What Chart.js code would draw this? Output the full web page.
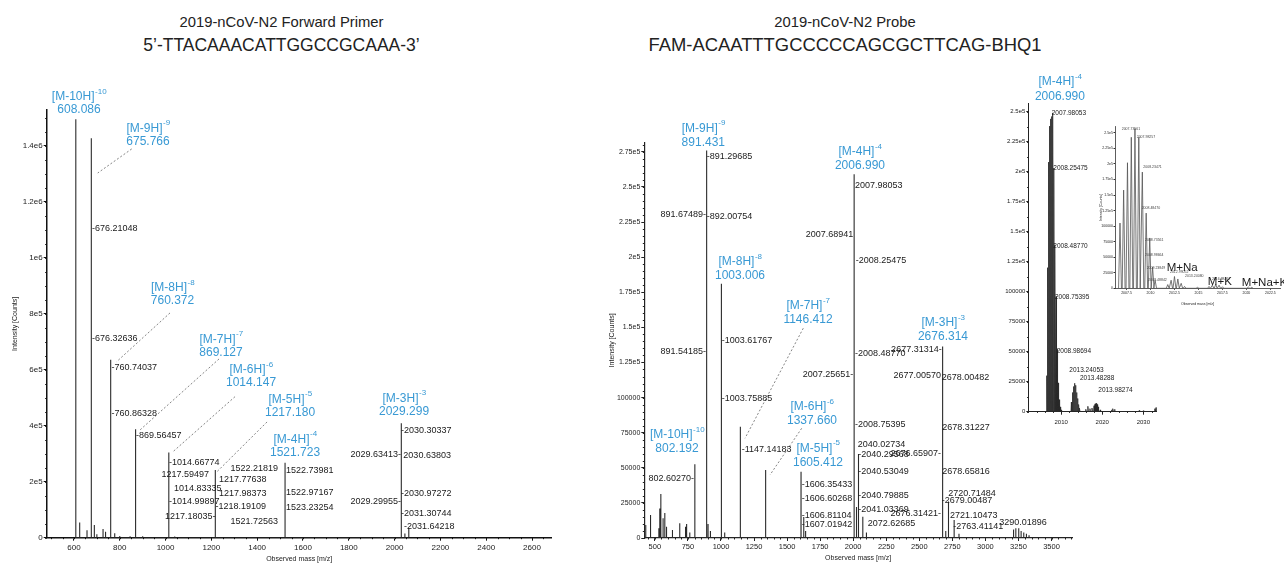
<!DOCTYPE html>
<html><head><meta charset="utf-8">
<script src="https://cdn.jsdelivr.net/npm/chart.js@4.4.1/dist/chart.umd.min.js"></script>
<style>
html,body{margin:0;padding:0;background:#fff;}
body{width:1284px;height:565px;position:relative;overflow:hidden;font-family:"Liberation Sans",Arial,sans-serif;}
.t{position:absolute;text-align:center;color:#222;white-space:nowrap;width:500px;line-height:20px;}
canvas{position:absolute;}
</style></head><body>
<div class="t" style="left:31.5px;top:12px;font-size:14.8px">2019-nCoV-N2 Forward Primer</div>
<div class="t" style="left:31.5px;top:35px;font-size:17.5px">5’-TTACAAACATTGGCCGCAAA-3’</div>
<div class="t" style="left:595px;top:12px;font-size:14.8px">2019-nCoV-N2 Probe</div>
<div class="t" style="left:595px;top:35px;font-size:18.4px">FAM-ACAATTTGCCCCCAGCGCTTCAG-BHQ1</div>
<canvas id="cL" width="560" height="565" style="left:0;top:0"></canvas>
<canvas id="cR" width="724" height="565" style="left:560px;top:0"></canvas>
<canvas id="cI" width="180" height="360" style="left:990px;top:70px"></canvas>
<canvas id="cM" width="189" height="195" style="left:1095px;top:115px"></canvas>
<script>
// ---------------- DATA ----------------
// Left spectrum: Forward primer (m/z, intensity counts)
const leftMz  = [608.086, 625, 657, 675.766, 689, 700, 727, 738, 760.372, 778, 800, 845, 869.127, 900, 1014.147, 1040, 1217.180, 1521.723, 2029.299, 2045, 2062];
const leftInt = [1494000, 54000, 27000, 1426000, 45000, 12000, 31000, 21000, 635000, 16000, 6000, 5000, 387000, 5000, 304000, 4000, 242000, 268000, 409000, 15000, 35000];
const leftXTicks = [600, 800, 1000, 1200, 1400, 1600, 1800, 2000, 2200, 2400, 2600];
const leftYTicks = [0, 200000, 400000, 600000, 800000, 1000000, 1200000, 1400000];
const leftYLabels = ['0', '2e5', '4e5', '6e5', '8e5', '1e6', '1.2e6', '1.4e6'];

// Right spectrum: Probe
const rightMz  = [431, 467, 530, 537, 545, 562, 575, 588, 633, 688, 732, 740, 764, 802.192, 891.431, 902, 920, 1003.006, 1028, 1146.412, 1337.660, 1605.412, 1626, 1640, 2006.990, 2025, 2040.03, 2072.6, 2100, 2676.314, 2700, 2720.7, 2763.4, 2800, 3213, 3230, 3252, 3270, 3290, 3310, 3330];
const rightInt = [9300, 16400, 6900, 21000, 31300, 14000, 17800, 8000, 5700, 10500, 8000, 10000, 4000, 52500, 276000, 10000, 5000, 181000, 4000, 79300, 48400, 47200, 15000, 5000, 259000, 22000, 59800, 15200, 4000, 136300, 5000, 26000, 12800, 3000, 6000, 7000, 7000, 5000, 4000, 3000, 2000];
const rightXTicks = [500, 750, 1000, 1250, 1500, 1750, 2000, 2250, 2500, 2750, 3000, 3250, 3500];
const rightYTicks = [0, 25000, 50000, 75000, 100000, 125000, 150000, 175000, 200000, 225000, 250000, 275000];
const rightYLabels = ['0', '25000', '50000', '75000', '100000', '1.25e5', '1.5e5', '1.75e5', '2e5', '2.25e5', '2.5e5', '2.75e5'];

// Inset: zoom of the [M-4H]-4 region
const insetMz  = [2006.49, 2006.74, 2006.99, 2007.24, 2007.49, 2007.74, 2007.98, 2008.25, 2008.49, 2008.75, 2008.99, 2009.24, 2009.49, 2009.74, 2010.0, 2012.49, 2012.74, 2012.99, 2013.24, 2013.49, 2013.74, 2013.98, 2014.24, 2014.49, 2016.0, 2016.5, 2017.0, 2017.5, 2018.0, 2018.25, 2018.5, 2018.75, 2019.0, 2019.5, 2022.3, 2022.6, 2023.0, 2029.0, 2030.0, 2032.8, 2033.1];
const insetInt = [30000, 120000, 208000, 238000, 244000, 246000, 249000, 203000, 139000, 96000, 52000, 24000, 10000, 4000, 1500, 8000, 16000, 21000, 23700, 22000, 16000, 11000, 6000, 3000, 2000, 4500, 2500, 3000, 5000, 6500, 7000, 6000, 4000, 1500, 1500, 2500, 2000, 1000, 800, 2500, 3500];
const insetXTicks = [2010, 2020, 2030];
const insetYTicks = [0, 25000, 50000, 75000, 100000, 125000, 150000, 175000, 200000, 225000, 250000];
const insetYLabels = ['0', '25000', '50000', '75000', '100000', '1.25e5', '1.5e5', '1.75e5', '2e5', '2.25e5', '2.5e5'];

// Mini inset (adducts)
const miniMz  = [2006.82, 2007.2, 2007.6, 2008.0, 2008.38, 2008.78, 2009.15, 2009.55, 2009.92, 2010.22, 2010.48, 2011.8, 2012.15, 2012.5, 2012.85, 2013.2, 2013.55, 2014.9, 2016.1, 2016.45, 2016.8, 2017.15, 2017.5, 2020.2, 2020.55];
const miniInt = [105000, 158000, 202000, 243000, 257000, 243000, 187000, 121000, 81000, 34000, 13000, 6000, 13000, 19000, 15000, 8000, 3000, 1500, 3000, 5000, 6500, 5000, 2500, 2000, 1500];
const miniXTicks = [2007.5, 2010, 2012.5, 2015, 2017.5, 2020, 2022.5];
const miniYTicks = [0, 25000, 50000, 75000, 100000, 125000, 150000, 175000, 200000, 225000, 250000];
const miniYLabels = insetYLabels;

// ---------------- ANNOTATIONS (anchored in data units) ----------------
const leftBlue = [
  ['[M-10H]', '-10', '608.086', 622, 1573000],
  ['[M-9H]', '-9', '675.766', 923.4, 1462000],
  ['[M-8H]', '-8', '760.372', 1030.4, 892900],
  ['[M-7H]', '-7', '869.127', 1242.2, 708600],
  ['[M-6H]', '-6', '1014.147', 1373.2, 598900],
  ['[M-5H]', '-5', '1217.180', 1543.5, 494300],
  ['[M-4H]', '-4', '1521.723', 1565.3, 351400],
  ['[M-3H]', '-3', '2029.299', 2041.3, 497900]
];
const leftDash = [
  [852.2, 1388000, 703.7, 1302000],
  [1019.4, 802500, 786.7, 628600],
  [1233.4, 638200, 888.4, 384600],
  [1303.3, 503600, 1032.5, 307100],
  [1443, 413200, 1224.7, 235700]
];
const leftBlack = [
  ['-676.21048', 678.8, 1105000, 'left'],
  ['-676.32636', 678.8, 712100, 'left'],
  ['-760.74037', 764, 608600, 'left'],
  ['-760.86328', 764, 444300, 'left'],
  ['-869.56457', 871, 364300, 'left'],
  ['-1014.66774', 1015, 267900, 'left'],
  ['1217.59497', 1189.8, 225000, 'right'],
  ['1217.77638', 1233.4, 208600, 'left'],
  ['1014.83335', 1037, 176400, 'left'],
  ['1217.98373', 1233.4, 158600, 'left'],
  ['-1014.99897', 1015, 128600, 'left'],
  ['-1218.19109', 1218.2, 110700, 'left'],
  ['1217.18035-', 1218.2, 73900, 'right'],
  ['1522.21819', 1491, 247900, 'right'],
  ['1522.73981', 1526, 238200, 'left'],
  ['1522.97167', 1526, 160700, 'left'],
  ['1523.23254', 1526, 107100, 'left'],
  ['1521.72563', 1491, 57100, 'right'],
  ['-2030.30337', 2028.2, 381100, 'left'],
  ['2029.63413-', 2028.2, 295400, 'right'],
  ['2030.63803', 2038.3, 292900, 'left'],
  ['-2030.97272', 2028.2, 158600, 'left'],
  ['2029.29955-', 2028.2, 128600, 'right'],
  ['-2031.30744', 2028.2, 87100, 'left'],
  ['-2031.64218', 2041.3, 39300, 'left']
];
const rightBlue = [
  ['[M-9H]', '-9', '891.431', 866.2, 291800],
  ['[M-8H]', '-8', '1003.006', 1143.8, 196800],
  ['[M-4H]', '-4', '2006.990', 2051.3, 275200],
  ['[M-7H]', '-7', '1146.412', 1658, 165300],
  ['[M-10H]', '-10', '802.192', 667.3, 73400],
  ['[M-6H]', '-6', '1337.660', 1688.3, 93500],
  ['[M-5H]', '-5', '1605.412', 1733.7, 63900],
  ['[M-3H]', '-3', '2676.314', 2679, 153400]
];
const rightDash = [
  [1622.5, 149400, 1181.6, 71000],
  [1610.4, 78100, 1370.7, 44900]
];
const rightBlack = [
  ['-891.29685', 891.9, 271600, 'left'],
  ['891.67489-', 886.6, 230100, 'right'],
  ['-892.00754', 891.9, 228900, 'left'],
  ['891.54185-', 886.6, 132700, 'right'],
  ['-1003.61767', 1005.4, 140500, 'left'],
  ['-1003.75885', 1005.4, 99500, 'left'],
  ['802.60270-', 795.9, 42500, 'right'],
  ['-1147.14183', 1156.6, 62700, 'left'],
  ['-1606.35433', 1610.4, 38250, 'left'],
  ['-1606.60268', 1610.4, 28280, 'left'],
  ['-1606.81104', 1610.4, 15880, 'left'],
  ['-1607.01942', 1610.4, 9260, 'left'],
  ['2007.98053', 2013.5, 250700, 'left'],
  ['2007.68941', 2000.7, 215800, 'right'],
  ['-2008.25475', 2018.8, 197800, 'left'],
  ['-2008.48770', 2013.5, 131100, 'left'],
  ['2007.25651-', 2000.7, 116100, 'right'],
  ['-2008.75395', 2013.5, 80500, 'left'],
  ['2040.02734', 2034, 66700, 'left'],
  ['-2040.29568', 2038.5, 59100, 'left'],
  ['-2040.53049', 2038.5, 47200, 'left'],
  ['-2040.79885', 2038.5, 29900, 'left'],
  ['-2041.03369', 2038.5, 20400, 'left'],
  ['2072.62685', 2109.6, 9970, 'left'],
  ['2677.31314-', 2669.2, 133900, 'right'],
  ['2677.00570', 2663.9, 115400, 'right'],
  ['2678.00482', 2669.2, 114500, 'left'],
  ['2678.31227', 2673.8, 78600, 'left'],
  ['2676.65907-', 2663.9, 60300, 'right'],
  ['2678.65816', 2673.8, 47200, 'left'],
  ['2720.71484', 2719.2, 31800, 'left'],
  ['-2679.00487', 2669.2, 26400, 'left'],
  ['2676.31421-', 2663.9, 17600, 'right'],
  ['2721.10473', 2732, 15700, 'left'],
  ['-2763.41141', 2757, 8050, 'left'],
  ['3290.01896', 3104.9, 11180, 'left']
];
const insetBlue = [['[M-4H]', '-4', '2006.990', 2009.7, 275000]];
const insetBlack = [
  ['2007.98053', 2007.69, 248700, 'left'],
  ['2008.25475', 2008.08, 202800, 'left'],
  ['2008.48770', 2008.08, 137500, 'left'],
  ['2008.75395', 2008.5, 95800, 'left'],
  ['2008.98694', 2008.91, 50000, 'left'],
  ['2013.24053', 2011.98, 34700, 'left'],
  ['2013.48288', 2014.58, 27800, 'left'],
  ['2013.98274', 2019.03, 18100, 'left']
];
const miniBig = [['M+Na', 2011.69, 32200], ['M+K', 2015.98, 10600], ['M+Na+K', 2019.52, 9000]];
const miniBlack = [
  ['2007.73561', 2007.0, 255800, 'left'],
  ['2007.98257', 2008.56, 244000, 'left'],
  ['2008.23471', 2009.25, 195700, 'left'],
  ['2008.48470', 2009.08, 128700, 'left'],
  ['2008.73561', 2009.43, 77700, 'left'],
  ['2008.98664', 2009.43, 53600, 'left'],
  ['2009.23849', 2009.6, 32200, 'left'],
  ['2009.48842', 2009.77, 13400, 'left'],
  ['2012.99052', 2012.03, 26700, 'left'],
  ['2013.24080', 2013.6, 19800, 'left'],
  ['2016.98467', 2016.4, 15000, 'left']
];

// ---------------- RENDERING ----------------
const SANS = '"Liberation Sans", Arial, sans-serif';
const NARROW = '"Liberation Sans Narrow", "Liberation Sans", Arial, sans-serif';
const BLUE = '#3899d4';

function buildPoints(mz, int, hw) {
  const idx = mz.map((_, i) => i).sort((a, b) => mz[a] - mz[b]);
  const pts = [];
  idx.forEach(i => { pts.push({x: mz[i] - hw, y: 0}, {x: mz[i], y: int[i]}, {x: mz[i] + hw, y: 0}); });
  return pts;
}

function annotPlugin(spec) {
  return {
    id: 'annot',
    afterDraw(chart) {
      const ctx = chart.ctx, ca = chart.chartArea;
      const xs = chart.scales.x, ys = chart.scales.y;
      const X = v => xs.getPixelForValue(v), Y = v => ys.getPixelForValue(v);
      ctx.save();
      if (spec.minor) {
        const [mx, my, len] = spec.minor;
        ctx.strokeStyle = spec.axisColor; ctx.lineWidth = 1;
        ctx.beginPath();
        if (mx) { const n0 = Math.ceil(xs.min / mx), n1 = Math.floor(xs.max / mx);
          for (let n = n0; n <= n1; n++) { const p = Math.round(X(n * mx)) + 0.5; ctx.moveTo(p, ca.bottom); ctx.lineTo(p, ca.bottom + len); } }
        if (my) { const n0 = Math.ceil(ys.min / my), n1 = Math.floor(ys.max / my);
          for (let n = n0; n <= n1; n++) { const p = Math.round(Y(n * my)) + 0.5; ctx.moveTo(ca.left, p); ctx.lineTo(ca.left - len, p); } }
        ctx.stroke();
      }
      if (spec.dash) {
        ctx.strokeStyle = '#666'; ctx.lineWidth = 0.8; ctx.setLineDash([2, 2]);
        spec.dash.forEach(d => { ctx.beginPath(); ctx.moveTo(X(d[0]), Y(d[1])); ctx.lineTo(X(d[2]), Y(d[3])); ctx.stroke(); });
        ctx.setLineDash([]);
      }
      if (spec.black) {
        ctx.font = spec.blackFont; ctx.fillStyle = spec.blackColor || '#1a1a1a'; ctx.textBaseline = 'middle';
        spec.black.forEach(b => { ctx.textAlign = b[3]; ctx.fillText(b[0], X(b[1]), Y(b[2])); });
      }
      if (spec.blue) {
        ctx.fillStyle = BLUE; ctx.textBaseline = 'middle';
        const big = '12px ' + SANS, small = '8px ' + SANS;
        const gap = spec.blueGap || 13.5;
        spec.blue.forEach(b => {
          const cx = X(b[3]), cy = Y(b[4]);
          ctx.font = big; const wm = ctx.measureText(b[0]).width;
          ctx.font = small; const ws = ctx.measureText(b[1]).width;
          const x0 = cx - (wm + ws) / 2;
          ctx.textAlign = 'left';
          ctx.font = big; ctx.fillText(b[0], x0, cy);
          ctx.font = small; ctx.fillText(b[1], x0 + wm + 0.5, cy - 5);
          ctx.font = big; ctx.textAlign = 'center'; ctx.fillText(b[2], cx, cy + gap);
        });
      }
      if (spec.big) {
        ctx.fillStyle = '#1a1a1a'; ctx.textBaseline = 'middle'; ctx.textAlign = 'left'; ctx.font = '11.5px ' + SANS;
        spec.big.forEach(b => ctx.fillText(b[0], X(b[1]), Y(b[2])));
      }
      ctx.restore();
    }
  };
}

function axisCfg(o) {
  const bottom = o.pos === 'bottom';
  return {
    type: 'linear', position: o.pos, min: o.min, max: o.max,
    afterBuildTicks: s => { s.ticks = o.ticks.map(v => ({value: v})); },
    afterFit: s => {
      if (bottom) { s.height = o.size; s.paddingLeft = 0; s.paddingRight = 0; }
      else { s.width = o.size; s.paddingTop = 0; s.paddingBottom = 0; }
    },
    ticks: {
      autoSkip: false, maxRotation: 0, minRotation: 0, padding: o.tpad, color: '#222',
      font: {family: NARROW, size: o.tfs},
      callback: v => { const i = o.ticks.indexOf(v); return i >= 0 ? o.labels[i] : ''; }
    },
    grid: {drawOnChartArea: false, drawTicks: true, tickLength: o.tl, color: o.axisColor, lineWidth: 1},
    border: {display: true, color: o.axisColor, width: o.bw},
    title: o.title ? {display: true, text: o.title, color: '#222', font: {family: SANS, size: o.titleSize},
      padding: bottom ? {top: 0, bottom: o.titlePad} : {top: o.titlePad, bottom: 0}} : {display: false}
  };
}

function makeChart(id, c) {
  return new Chart(document.getElementById(id), {
    type: 'line',
    data: {datasets: [{
      data: buildPoints(c.mz, c.int, c.hw),
      borderColor: c.color, borderWidth: c.lw, pointRadius: 0, tension: 0,
      fill: c.fill ? 'origin' : false, backgroundColor: c.fill || 'transparent'
    }]},
    options: {
      responsive: false, animation: false, devicePixelRatio: 1,
      layout: {padding: c.pad},
      plugins: {legend: {display: false}, tooltip: {enabled: false}},
      scales: {x: axisCfg(c.x), y: axisCfg(c.y)}
    },
    plugins: [annotPlugin(c.annot)]
  });
}

// Left chart
makeChart('cL', {
  mz: leftMz, int: leftInt, hw: 0.05, color: '#2a2a2a', lw: 1.1,
  pad: {left: 0, right: 8.3, top: 110, bottom: 0},
  x: {pos: 'bottom', min: 481, max: 2686, ticks: leftXTicks, labels: leftXTicks.map(String), size: 27.3, tl: 3, tpad: 2, tfs: 8, axisColor: '#111', bw: 1.5, title: 'Observed mass [m/z]', titleSize: 7, titlePad: 1.5},
  y: {pos: 'left', min: 0, max: 1527000, ticks: leftYTicks, labels: leftYLabels, size: 46.7, tl: 3, tpad: 1, tfs: 8, axisColor: '#111', bw: 1.5, title: 'Intensity [Counts]', titleSize: 7, titlePad: 10.5},
  annot: {minor: [50, 50000, 1.5], axisColor: '#111', dash: leftDash, black: leftBlack, blackFont: '9px ' + NARROW, blue: leftBlue, blueGap: 13}
});

// Right chart
makeChart('cR', {
  mz: rightMz, int: rightInt, hw: 0.3, color: '#2a2a2a', lw: 1.1,
  pad: {left: 44.3, right: 212, top: 142.7, bottom: 0},
  x: {pos: 'bottom', min: 420, max: 3655, ticks: rightXTicks, labels: rightXTicks.map(String), size: 27, tl: 3, tpad: 1, tfs: 7.5, axisColor: '#222', bw: 1.2, title: 'Observed mass [m/z]', titleSize: 7, titlePad: 2.5},
  y: {pos: 'left', min: 0, max: 281500, ticks: rightYTicks, labels: rightYLabels, size: 40, tl: 3, tpad: 1, tfs: 7, axisColor: '#222', bw: 1.2, title: 'Intensity [Counts]', titleSize: 7, titlePad: 3.2},
  annot: {minor: [50, 5000, 1.5], axisColor: '#222', dash: rightDash, black: rightBlack, blackFont: '9px ' + NARROW, blue: rightBlue, blueGap: 14}
});

// Inset chart
makeChart('cI', {
  mz: insetMz, int: insetInt, hw: 0.1, color: '#2a2a2a', lw: 0.8, fill: '#3a3a3a',
  pad: {left: 0, right: 13.5, top: 33.3, bottom: 0},
  x: {pos: 'bottom', min: 2002, max: 2033.2, ticks: insetXTicks, labels: insetXTicks.map(String), size: 18.3, tl: 3, tpad: 4, tfs: 6, axisColor: '#222', bw: 1},
  y: {pos: 'left', min: 0, max: 257000, ticks: insetYTicks, labels: insetYLabels, size: 38.3, tl: 2, tpad: 1, tfs: 6, axisColor: '#222', bw: 1},
  annot: {minor: [2, 12500, 1.2], axisColor: '#222', black: insetBlack, blackFont: '6.5px ' + NARROW, blue: insetBlue, blueGap: 15}
});

// Mini inset
makeChart('cM', {
  mz: miniMz, int: miniInt, hw: 0.15, color: '#555', lw: 0.8,
  pad: {left: 0, right: 4, top: 11.7, bottom: 0},
  x: {pos: 'bottom', min: 2006.3, max: 2023.5, ticks: miniXTicks, labels: miniXTicks.map(String), size: 21.7, tl: 1.5, tpad: 1, tfs: 3.5, axisColor: '#333', bw: 0.8, title: 'Observed mass [m/z]', titleSize: 3.5, titlePad: 3.6},
  y: {pos: 'left', min: 0, max: 260000, ticks: miniYTicks, labels: miniYLabels, size: 20, tl: 1.5, tpad: 0.5, tfs: 3.5, axisColor: '#333', bw: 0.8, title: 'Intensity [Counts]', titleSize: 3.5, titlePad: 4},
  annot: {black: miniBlack, blackFont: '3.5px ' + NARROW, blackColor: '#444', big: miniBig}
});
</script>
</body></html>
